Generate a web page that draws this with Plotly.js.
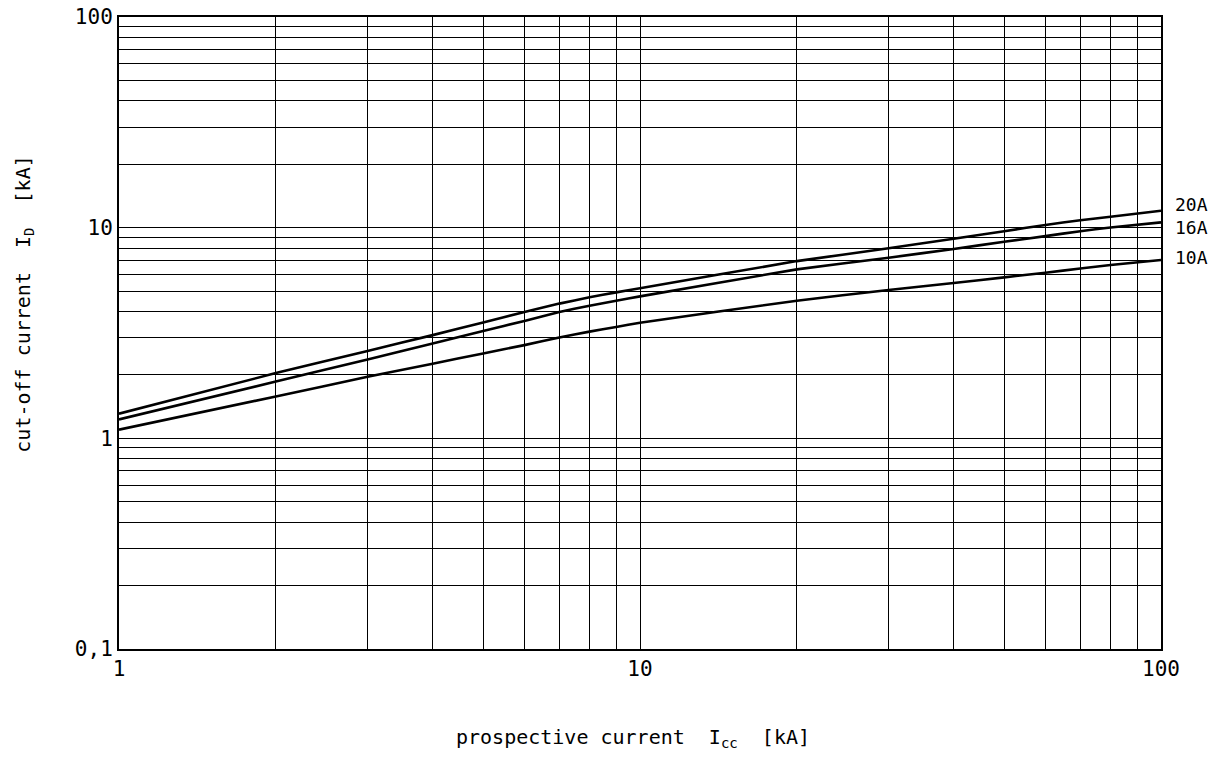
<!DOCTYPE html>
<html>
<head>
<meta charset="utf-8">
<script src="https://cdn.plot.ly/plotly-3.0.1.min.js"></script>
<style>html,body{margin:0;padding:0;background:#fff;}#chart{width:1225px;height:765px;}</style>
</head>
<body>
<div id="chart"></div>
<script>
// prospective current Icc [kA]
const prospective = [1, 2, 3, 4, 5, 6, 7, 8, 9, 10, 20, 30, 40, 50, 60, 70, 80, 100];
// cut-off current ID [kA] per fuse rating
const cutoff20A = [1.31, 2.04, 2.60, 3.09, 3.55, 3.98, 4.36, 4.67, 4.93, 5.16, 6.94, 7.98, 8.86, 9.62, 10.30, 10.85, 11.27, 12.03];
const cutoff16A = [1.23, 1.86, 2.37, 2.82, 3.23, 3.61, 3.98, 4.26, 4.50, 4.72, 6.34, 7.20, 7.92, 8.57, 9.12, 9.62, 10.02, 10.60];
const cutoff10A = [1.10, 1.58, 1.96, 2.26, 2.53, 2.77, 3.01, 3.21, 3.38, 3.54, 4.50, 5.06, 5.46, 5.81, 6.11, 6.40, 6.65, 7.02];
const seriesNames = ["20A", "16A", "10A"];

const xMajor = [1, 10, 100];
const xMajorText = ["1", "10", "100"];
const xMinor = [2,3,4,5,6,7,8,9,20,30,40,50,60,70,80,90];
const yMajor = [0.1, 1, 10, 100];
const yMajorText = ["0,1", "1", "10", "100"];
const yMinor = [0.2,0.3,0.4,0.5,0.6,0.7,0.8,0.9,2,3,4,5,6,7,8,9,20,30,40,50,60,70,80,90];

const FONT = "'DejaVu Sans Mono', 'Liberation Mono', monospace";

const series = [cutoff20A, cutoff16A, cutoff10A];
const traces = series.map((ys, i) => ({
  x: prospective, y: ys, type: "scatter", mode: "lines", name: seriesNames[i],
  line: {color: "#000", width: 2.6, shape: "spline", smoothing: 0.3},
  hoverinfo: "skip"
}));

const labelShift = [6, -5, 3];
const labelAnn = series.map((ys, i) => ({
  x: Math.log10(prospective[prospective.length - 1]), y: Math.log10(ys[ys.length - 1]),
  xref: "x", yref: "y", text: seriesNames[i], showarrow: false,
  xanchor: "left", yanchor: "middle", xshift: 12, yshift: labelShift[i],
  font: {family: FONT, size: 18, color: "#000"}
}));

const axisCommon = {
  type: "log", tickmode: "array",
  showgrid: true, gridcolor: "#000", gridwidth: 1,
  ticks: "", showline: true, linecolor: "#000", linewidth: 2, mirror: true,
  zeroline: false, tickfont: {family: FONT, size: 21, color: "#000"}
};

const layout = {
  width: 1225, height: 765,
  margin: {l: 119, r: 64, t: 17, b: 116},
  paper_bgcolor: "#fff", plot_bgcolor: "#fff",
  showlegend: false,
  font: {family: FONT, size: 21, color: "#000"},
  xaxis: Object.assign({}, axisCommon, {
    range: [0, 2], tickvals: xMajor, ticktext: xMajorText,
    minor: {tickmode: "array", tickvals: xMinor, showgrid: true, gridcolor: "#000", gridwidth: 1, ticks: ""}
  }),
  yaxis: Object.assign({}, axisCommon, {
    range: [-1, 2], tickvals: yMajor, ticktext: yMajorText,
    minor: {tickmode: "array", tickvals: yMinor, showgrid: true, gridcolor: "#000", gridwidth: 1, ticks: ""}
  }),
  annotations: labelAnn.concat([
    {xref: "paper", yref: "paper", x: 0.493, y: -0.141, yanchor: "middle", xanchor: "center",
     text: "prospective current  I<sub>cc</sub>  [kA]", showarrow: false,
     font: {family: FONT, size: 20, color: "#000"}},
    {xref: "paper", yref: "paper", x: -0.092, y: 0.545, xanchor: "center", yanchor: "middle",
     textangle: -90, text: "cut-off current  I<sub>D</sub>  [kA]", showarrow: false,
     font: {family: FONT, size: 20, color: "#000"}}
  ])
};

Plotly.newPlot("chart", traces, layout, {displayModeBar: false, staticPlot: true});
</script>
</body>
</html>
